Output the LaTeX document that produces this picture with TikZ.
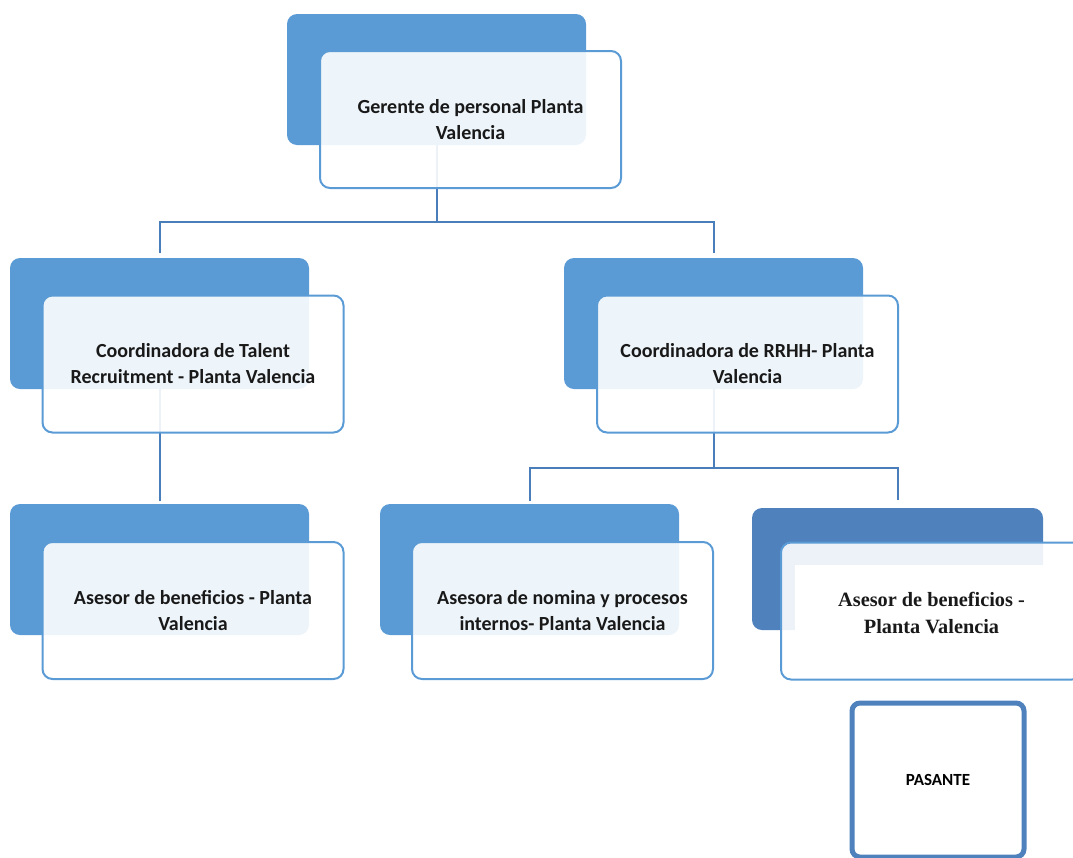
\documentclass[tikz,border=0pt]{standalone}
\usepackage{fontspec}
\setmainfont{Carlito}
\newfontfamily\timesf{Liberation Serif}
\definecolor{bluea}{HTML}{5B9BD5}
\definecolor{blueb}{HTML}{4F81BD}
\definecolor{linec}{HTML}{4A7EBB}
\begin{document}
\begin{tikzpicture}[x=1pt,y=-1pt,
 backbox/.style={rounded corners=10pt, fill=bluea, minimum width=299pt, minimum height=131pt, inner sep=0pt},
 frontbox/.style={rounded corners=10pt, draw=bluea, line width=2pt, fill=white, fill opacity=0.9, text opacity=1, minimum width=301pt, minimum height=137pt, inner sep=0pt, align=center, font=\bfseries\fontsize{20}{26}\selectfont, text=black!90},
 conn/.style={draw=linec, line width=2pt}]
\useasboundingbox (0,0) rectangle (1073,857);
% back boxes
\node[backbox] (b1) at (436.5,79.5) {};
\node[backbox] (b2) at (159.5,323.5) {};
\node[backbox] (b3) at (713.5,323.5) {};
\node[backbox] (b4) at (159.5,569.5) {};
\node[backbox] (b5) at (529.5,569.5) {};
\node[backbox, fill=blueb, minimum width=291pt, minimum height=122pt] (b6) at (897.5,569) {};
% connectors
\coordinate (j1) at (436.5,222);
\coordinate (j2) at (713.5,468);
\draw[conn] (b1.south) -- (j1);
\draw[conn, shorten >=5pt] (j1) -| (b2.north);
\draw[conn, shorten >=5pt] (j1) -| (b3.north);
\draw[conn, shorten >=3pt] (b2.south) -- (b4.north);
\draw[conn] (b3.south) -- (j2);
\draw[conn, shorten >=3pt] (j2) -| (b5.north);
\draw[conn, shorten >=8pt] (j2) -| (b6.north);
% front boxes
\node[frontbox] (f1) at (470.5,119.5) {Gerente de personal Planta\\Valencia};
\node[frontbox] (f2) at (193,364) {Coordinadora de Talent\\Recruitment - Planta Valencia};
\node[frontbox] (f3) at (747.5,364) {Coordinadora de RRHH- Planta\\Valencia};
\node[frontbox] (f4) at (193,610.5) {Asesor de beneficios - Planta\\Valencia};
\node[frontbox] (f5) at (562.5,610.5) {Asesora de nomina y procesos\\internos- Planta Valencia};
\node[frontbox] (f6) at (931.5,611) {};
\node[fill=white, minimum width=273pt, minimum height=95pt, inner sep=0pt, align=center, font=\timesf\bfseries\fontsize{20.3}{27}\selectfont, text=black!90] (w6) at (931.5,612.5) {Asesor de beneficios -\\Planta Valencia};
% pasante
\node[draw=blueb, line width=5pt, rounded corners=8pt, minimum width=172pt, minimum height=154pt, inner sep=0pt, font=\bfseries\fontsize{17}{20}\selectfont] (p) at (938,780) {PASANTE};
\end{tikzpicture}
\end{document}
